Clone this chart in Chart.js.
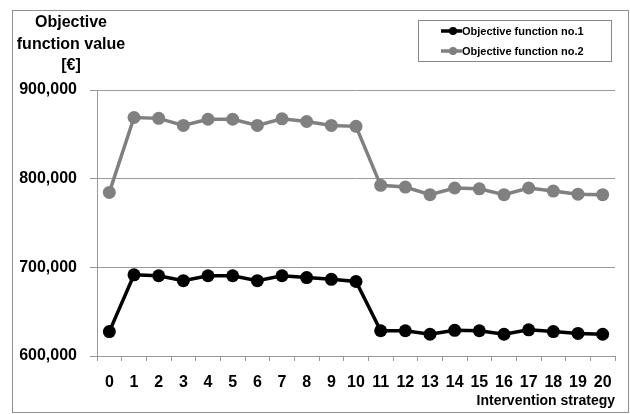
<!DOCTYPE html>
<html lang="en">
  <head>
    <meta charset="UTF-8" />
    <title>Objective function value per intervention strategy</title>
    <script src="https://cdn.jsdelivr.net/npm/chart.js"></script>
    <style>
      body { margin: 0; background: #fff; }
    </style>
  </head>
  <body>
    <canvas id="chart" width="630" height="414"></canvas>

    <script>
      const strategies = ["0", "1", "2", "3", "4", "5", "6", "7", "8", "9", "10",
        "11", "12", "13", "14", "15", "16", "17", "18", "19", "20"];
      const objective1 = [627500, 691500, 690500, 685000, 690500, 690500, 685000, 690500, 688500, 686500, 684000,
        628500, 628500, 624500, 629000, 628500, 624500, 629500, 627500, 625500, 624500];
      const objective2 = [784500, 869000, 868000, 860000, 867000, 867000, 860000, 867500, 864500, 860000, 859000,
        792500, 790500, 782000, 789500, 788500, 782000, 789500, 786000, 782500, 782000];
      const seriesNames = ["Objective function no.1", "Objective function no.2"];
      const yTitleLines = ["Objective", "function value", "[€]"];
      const xTitle = "Intervention strategy";

      const FONT = "'Liberation Sans', Arial, sans-serif";
      Chart.defaults.font.family = FONT;

      // frame, y title and legend box like the original spreadsheet chart
      const decorations = {
        id: "decorations",
        beforeDraw(chart) {
          const c = chart.ctx;
          c.save();
          c.fillStyle = "#fff";
          c.fillRect(0, 0, chart.width, chart.height);
          c.strokeStyle = "#909090";
          c.lineWidth = 1;
          c.strokeRect(12.5, 10.5, 616, 402);
          c.restore();
        },
        afterDraw(chart) {
          const c = chart.ctx;
          c.save();
          c.fillStyle = "#000";
          c.textAlign = "center";
          c.textBaseline = "middle";
          c.font = "bold 16px " + FONT;
          yTitleLines.forEach((t, i) => c.fillText(t, 71, 23 + i * 21.5));

          c.strokeStyle = "#888";
          c.lineWidth = 1;
          c.strokeRect(418.5, 20.5, 193, 41);
          c.font = "bold 11px " + FONT;
          c.textAlign = "left";
          chart.data.datasets.forEach((ds, i) => {
            const y = 31 + i * 20;
            c.strokeStyle = ds.borderColor;
            c.fillStyle = ds.borderColor;
            c.lineWidth = 3.5;
            c.beginPath();
            c.moveTo(441, y);
            c.lineTo(462, y);
            c.stroke();
            c.beginPath();
            c.arc(453, y, 4, 0, Math.PI * 2);
            c.fill();
            c.fillStyle = "#000";
            c.fillText(ds.label, 462, y + 0.5);
          });
          c.restore();
        }
      };

      new Chart(document.getElementById("chart"), {
        type: "line",
        data: {
          labels: strategies,
          datasets: [
            {
              label: seriesNames[0],
              data: objective1,
              borderColor: "#000",
              backgroundColor: "#000",
              borderWidth: 3.5,
              pointRadius: 6.5,
              pointBorderWidth: 0,
              tension: 0
            },
            {
              label: seriesNames[1],
              data: objective2,
              borderColor: "#808080",
              backgroundColor: "#808080",
              borderWidth: 3.5,
              pointRadius: 6.5,
              pointBorderWidth: 0,
              tension: 0
            }
          ]
        },
        options: {
          responsive: false,
          animation: false,
          layout: { padding: { top: 90, right: 15, bottom: 4, left: 0 } },
          plugins: {
            legend: { display: false },
            tooltip: { enabled: false }
          },
          scales: {
            x: {
              offset: true,
              grid: { offset: true, drawOnChartArea: false, color: "#999", tickLength: 5 },
              border: { color: "#999" },
              ticks: {
                color: "#000",
                font: { size: 16, weight: "bold" },
                padding: 12,
                maxRotation: 0,
                autoSkip: false
              },
              title: {
                display: true,
                text: xTitle,
                align: "end",
                color: "#000",
                font: { size: 14, weight: "bold" },
                padding: 0
              },
              afterFit: (s) => { s.height = 54; }
            },
            y: {
              min: 600000,
              max: 900000,
              ticks: {
                stepSize: 100000,
                callback: (v) => v.toLocaleString("en-US"),
                color: "#000",
                font: { size: 16, weight: "bold" },
                padding: 13
              },
              grid: { color: "#999", tickLength: 7 },
              border: { color: "#999" },
              afterFit: (s) => { s.width = 97; }
            }
          }
        },
        plugins: [decorations]
      });
    </script>
  </body>
</html>
